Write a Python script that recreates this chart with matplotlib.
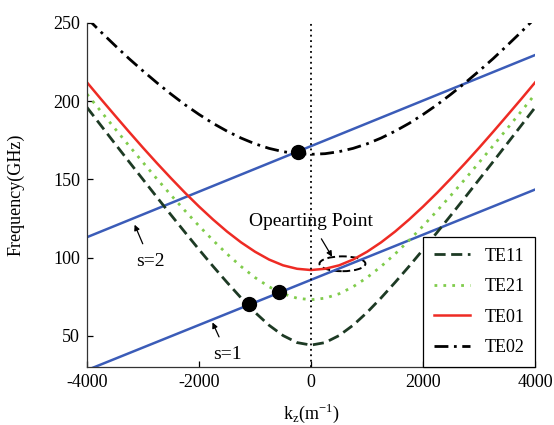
import matplotlib
matplotlib.use("Agg")
import matplotlib.pyplot as plt
from matplotlib.patches import Ellipse

plt.rcParams['font.family'] = ['Liberation Serif', 'DejaVu Serif']
plt.rcParams['mathtext.fontset'] = 'custom'
plt.rcParams['mathtext.rm'] = 'Liberation Serif'
plt.rcParams['axes.unicode_minus'] = False

# wave number axis (m^-1)
kz = [-4000, -3750, -3500, -3250, -3000, -2750, -2500, -2250, -2000, -1750, -1500,
      -1250, -1000, -750, -500, -250, 0, 250, 500, 750, 1000, 1250, 1500, 1750,
      2000, 2250, 2500, 2750, 3000, 3250, 3500, 3750, 4000]

# dispersion curves (GHz)
te11 = [196.0, 184.4, 172.8, 161.3, 149.9, 138.5, 127.2, 116.1, 105.1, 94.4, 84.1,
        74.2, 64.9, 56.7, 50.1, 45.6, 44.0, 45.6, 50.1, 56.7, 64.9, 74.2, 84.1, 94.4,
        105.1, 116.1, 127.2, 138.5, 149.9, 161.3, 172.8, 184.4, 196.0]
te21 = [204.5, 193.4, 182.4, 171.5, 160.8, 150.2, 139.9, 129.9, 120.2, 111.0, 102.3,
        94.3, 87.2, 81.3, 76.8, 74.0, 73.0, 74.0, 76.8, 81.3, 87.2, 94.3, 102.3, 111.0,
        120.2, 129.9, 139.9, 150.2, 160.8, 171.5, 182.4, 193.4, 204.5]
te01 = [212.0, 201.3, 190.8, 180.4, 170.2, 160.3, 150.7, 141.4, 132.6, 124.3, 116.6,
        109.7, 103.7, 98.7, 95.0, 92.8, 92.0, 92.8, 95.0, 98.7, 103.7, 109.7, 116.6, 124.3,
        132.6, 141.4, 150.7, 160.3, 170.2, 180.4, 190.8, 201.3, 212.0]
te02 = [253.1, 244.2, 235.6, 227.2, 219.3, 211.7, 204.5, 197.7, 191.5, 185.8, 180.8,
        176.4, 172.7, 169.8, 167.7, 166.4, 166.0, 166.4, 167.7, 169.8, 172.7, 176.4, 180.8, 185.8,
        191.5, 197.7, 204.5, 211.7, 219.3, 227.2, 235.6, 244.2, 253.1]

# beam lines
beam_kz = [-4000, 4000]
s1 = [28.0, 143.5]
s2 = [113.0, 229.5]

# intersection points
pt_kz = [-1107, -571, -232]
pt_f = [70.0, 78.0, 167.2]

fig = plt.figure(figsize=(5.54, 4.25), dpi=100)
ax = fig.add_axes([0.157, 0.1365, 0.809, 0.8095])

blue = '#3b5cb8'
ax.plot(beam_kz, s1, color=blue, lw=1.8)
ax.plot(beam_kz, s2, color=blue, lw=1.8)

l1, = ax.plot(kz, te11, color='#1d3a24', lw=2, ls=(0, (4, 2)), label='TE11')
l2, = ax.plot(kz, te21, color='#80cc4c', lw=2, ls=(0, (1, 2.2)), label='TE21')
l3, = ax.plot(kz, te01, color='#ee2b24', lw=1.8, label='TE01')
l4, = ax.plot(kz, te02, color='black', lw=2, ls=(0, (5, 2, 1, 2)), label='TE02')

ax.axvline(0, color='black', lw=1.3, ls=(0, (1, 2)))

ax.plot(pt_kz, pt_f, 'o', color='black', ms=10, zorder=5)

ax.add_patch(Ellipse((560, 96), 820, 9.5, fill=False, ec='black', lw=1.4, ls=(0, (4, 2))))

arrow = dict(arrowstyle='-|>', color='black', lw=0.9, shrinkA=5, shrinkB=0, mutation_scale=8)
ax.annotate('Opearting Point', xy=(375, 100.5), xytext=(0, 123), fontsize=14,
            ha='center', va='center', arrowprops=arrow)
ax.annotate('s=2', xy=(-3150, 121), xytext=(-2870, 97.5), fontsize=14,
            ha='center', va='center', arrowprops=arrow)
ax.annotate('s=1', xy=(-1760, 58.5), xytext=(-1500, 38), fontsize=14,
            ha='center', va='center', arrowprops=arrow)

ax.set_xlim(-4000, 4000)
ax.set_ylim(30, 250)
ax.set_xticks([-4000, -2000, 0, 2000, 4000])
ax.set_yticks([50, 100, 150, 200, 250])
ax.tick_params(direction='in', labelsize=13, length=4, width=0.9, pad=5)
ax.spines['top'].set_visible(False)
ax.spines['right'].set_visible(False)
for sp in ['left', 'bottom']:
    ax.spines[sp].set_linewidth(0.9)
    ax.spines[sp].set_color('#333333')

ax.set_xlabel(r'k$_\mathrm{z}$(m$^\mathrm{-1}$)', fontsize=13, labelpad=8)
ax.set_ylabel('Frequency(GHz)', fontsize=13)
ax.yaxis.set_label_coords(-0.14, 0.5)

leg = ax.legend(handles=[l1, l2, l3, l4], loc='lower right', bbox_to_anchor=(1.0, 0.0),
                fontsize=13, frameon=True, fancybox=False, edgecolor='black',
                framealpha=1, borderaxespad=0, labelspacing=0.75, handlelength=2.0,
                borderpad=0.6)
leg.get_frame().set_linewidth(0.9)

fig.savefig('out.png', dpi=100)
